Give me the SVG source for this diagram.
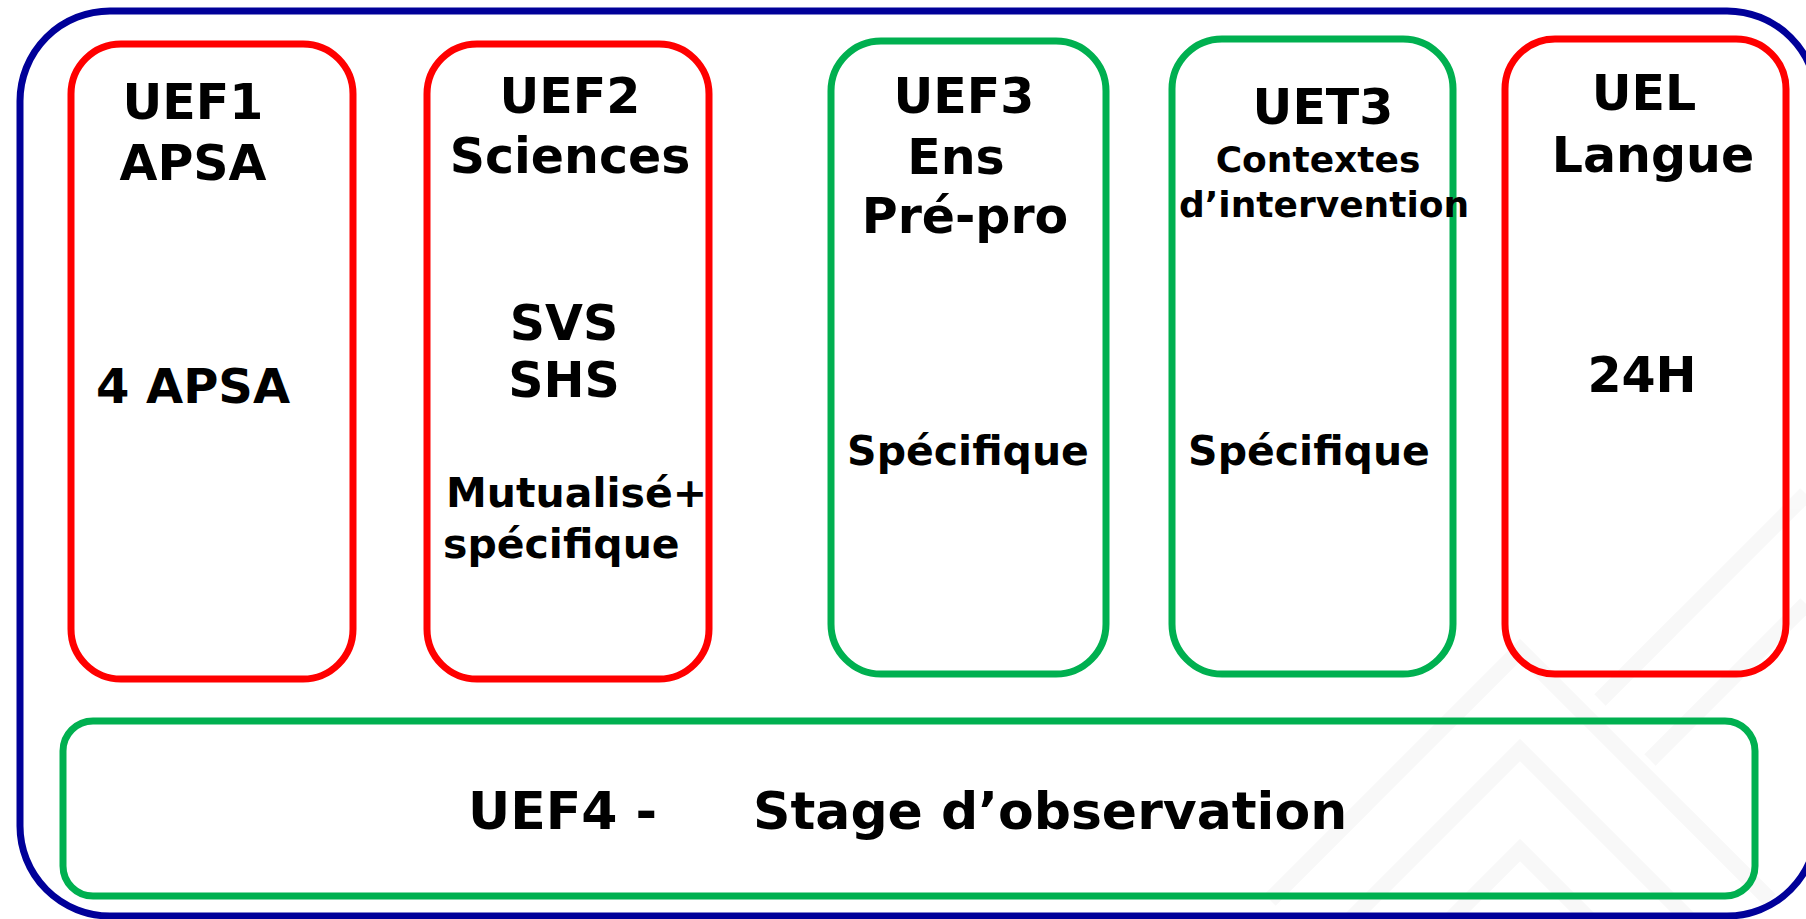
<svg xmlns="http://www.w3.org/2000/svg" width="1806" height="919" viewBox="0 0 1806 919">
  <style>
    .box { fill: none; stroke-width: 7; }
    .red { stroke: #FF0000; }
    .green { stroke: #00B050; }
    .outer { fill: none; stroke: #000099; stroke-width: 7; }
    text { font-family: "DejaVu Sans", Verdana, "Liberation Sans", sans-serif; font-weight: bold; fill: #000000; }
    .t49 { font-size: 49px; text-anchor: middle; }
    .t41 { font-size: 41px; }
    .t36 { font-size: 36px; text-anchor: middle; }
    .t52 { font-size: 52px; }
    .wm { fill: none; stroke: #f6f6f6; stroke-width: 16; }
  </style>
  <rect width="1806" height="919" fill="#ffffff"/>
  <g id="watermark" opacity="0.7">
    <path class="wm" d="M1330,1040 L1520,850 L1710,1040"/>
    <path class="wm" d="M1300,970 L1520,750 L1740,970"/>
    <path class="wm" d="M1270,900 L1520,650 L1770,900"/>
    <path class="wm" d="M1600,700 L1806,494"/>
    <path class="wm" d="M1650,760 L1806,604"/>
  </g>
  <g id="frame">
    <rect class="outer" x="20" y="11" width="1797" height="905" rx="90" ry="90"/>
  </g>
  <g id="connectors"></g>
  <g id="uef1">
    <rect class="box red" x="71" y="44" width="282" height="635" rx="50" ry="50"/>
    <text class="t49" x="193" y="119">UEF1</text>
    <text class="t49" x="193" y="180">APSA</text>
    <text class="t49" x="193" y="403" style="font-size:48px">4 APSA</text>
  </g>
  <g id="uef2">
    <rect class="box red" x="427" y="44" width="282" height="635" rx="50" ry="50"/>
    <text class="t49" x="570" y="113">UEF2</text>
    <text class="t49" x="570" y="173">Sciences</text>
    <text class="t49" x="564" y="340">SVS</text>
    <text class="t49" x="564" y="397">SHS</text>
    <text class="t41" x="446" y="507">Mutualisé+</text>
    <text class="t41" x="443" y="558">spécifique</text>
  </g>
  <g id="uef3">
    <rect class="box green" x="831" y="41" width="275" height="633" rx="50" ry="50"/>
    <text class="t49" x="964" y="113">UEF3</text>
    <text class="t49" x="956" y="174">Ens</text>
    <text class="t49" x="965" y="233">Pré-pro</text>
    <text class="t41" x="968" y="465" text-anchor="middle">Spécifique</text>
  </g>
  <g id="uet3">
    <rect class="box green" x="1172" y="39" width="281" height="635" rx="50" ry="50"/>
    <text class="t49" x="1323" y="124">UET3</text>
    <text class="t36" x="1318" y="172">Contextes</text>
    <text class="t36" x="1324" y="217">d’intervention</text>
    <text class="t41" x="1309" y="465" text-anchor="middle">Spécifique</text>
  </g>
  <g id="uel">
    <rect class="box red" x="1505" y="39" width="281" height="635" rx="50" ry="50"/>
    <text class="t49" x="1644" y="110">UEL</text>
    <text class="t49" x="1653" y="172">Langue</text>
    <text class="t49" x="1642" y="392">24H</text>
  </g>
  <g id="uef4">
    <rect class="box green" x="63" y="721" width="1692" height="175" rx="30" ry="30"/>
    <text class="t52" x="468" y="829">UEF4 -</text>
    <text class="t52" x="753" y="829">Stage d’observation</text>
  </g>
</svg>
